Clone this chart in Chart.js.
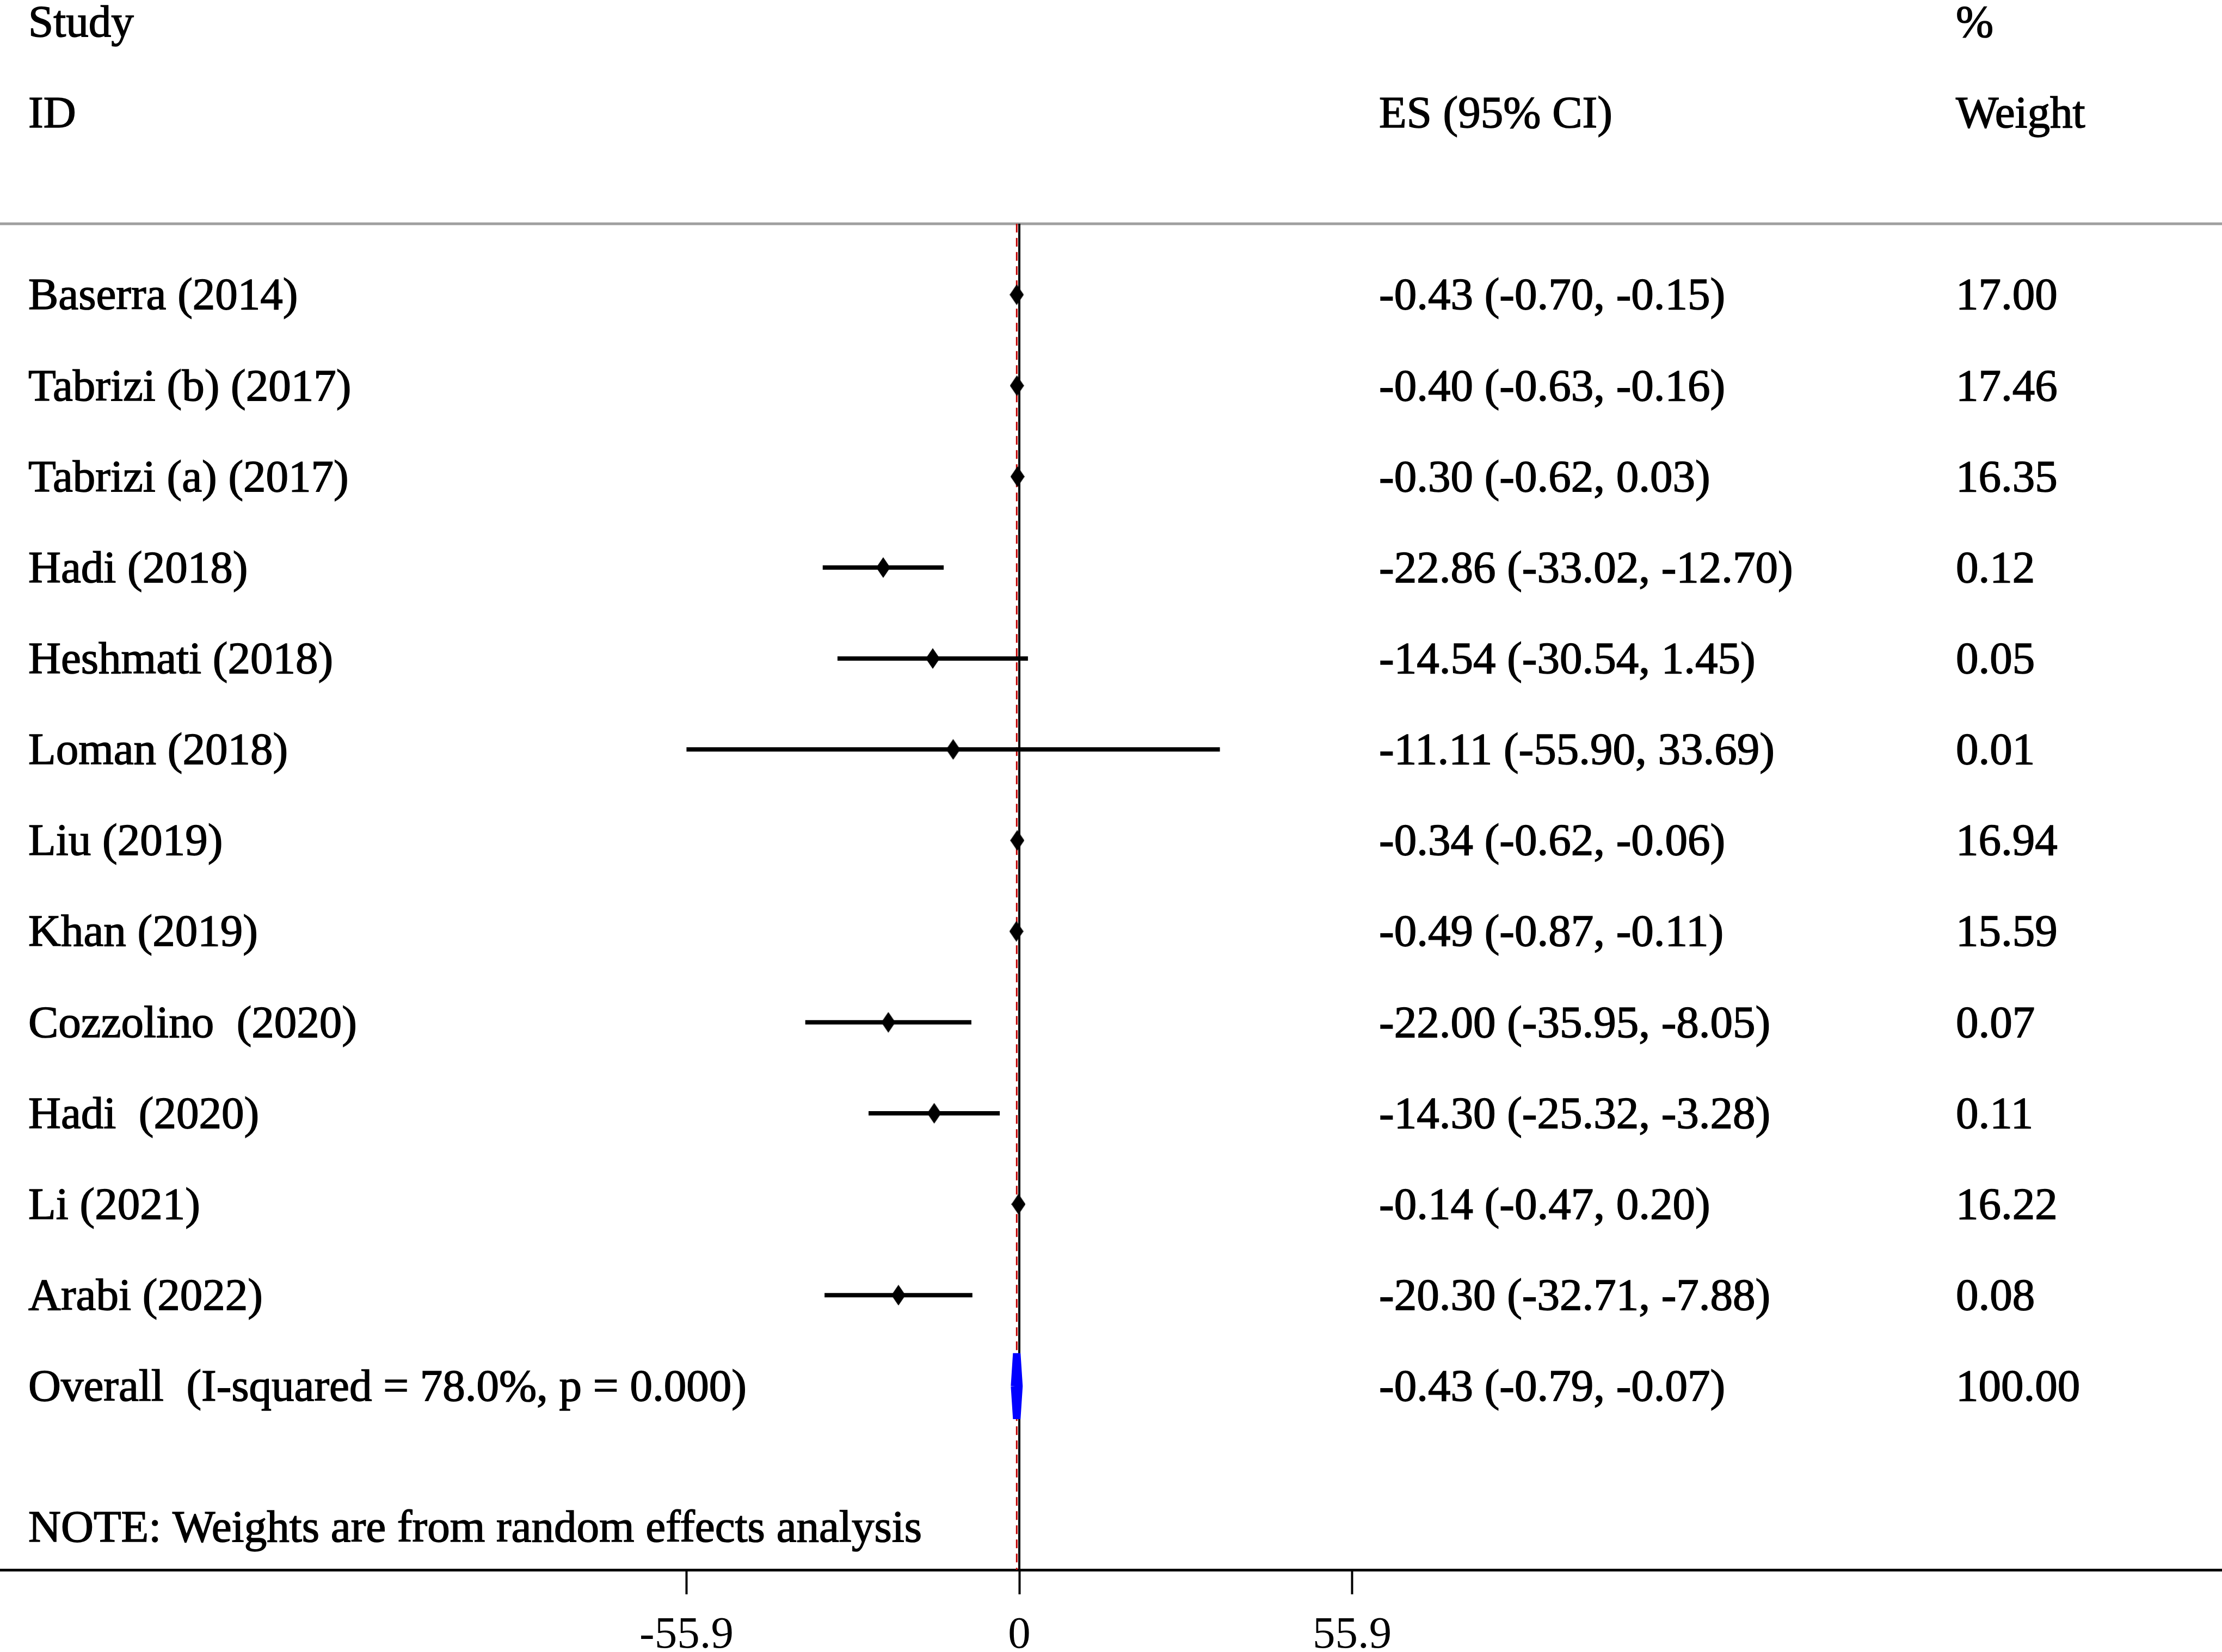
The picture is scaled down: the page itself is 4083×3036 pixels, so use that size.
<!DOCTYPE html>
<html>
<head>
<meta charset="utf-8">
<script src="https://cdn.jsdelivr.net/npm/chart.js@4.4.0/dist/chart.umd.min.js"></script>
<style>
html,body{margin:0;padding:0;background:#fff;}
#wrap{width:4083px;height:3036px;position:relative;}
</style>
</head>
<body>
<div id="wrap"><canvas id="forest"></canvas></div>
<script>
// studies, top to bottom
const studies = ["Baserra (2014)", "Tabrizi (b) (2017)", "Tabrizi (a) (2017)", "Hadi (2018)",
  "Heshmati (2018)", "Loman (2018)", "Liu (2019)", "Khan (2019)", "Cozzolino  (2020)",
  "Hadi  (2020)", "Li (2021)", "Arabi (2022)"];
const es     = [-0.43, -0.40, -0.30, -22.86, -14.54, -11.11, -0.34, -0.49, -22.00, -14.30, -0.14, -20.30];
const ciLow  = [-0.70, -0.63, -0.62, -33.02, -30.54, -55.90, -0.62, -0.87, -35.95, -25.32, -0.47, -32.71];
const ciHigh = [-0.15, -0.16,  0.03, -12.70,   1.45,  33.69, -0.06, -0.11,  -8.05,  -3.28,  0.20,  -7.88];
const weights = ["17.00", "17.46", "16.35", "0.12", "0.05", "0.01", "16.94", "15.59", "0.07", "0.11", "16.22", "0.08"];

const overallLabel = "Overall  (I-squared = 78.0%, p = 0.000)";
const overallES = -0.43, overallLow = -0.79, overallHigh = -0.07;
const overallWeight = "100.00";
const noteText = "NOTE: Weights are from random effects analysis";
const xTicks = [-55.9, 0, 55.9];

// row layout (y in row units, 1 = first study)
const overallRow = studies.length + 1;
const noteRow = 14.55;
const headerLineRow = 0.22;
const yMin = -2.24, yMax = 15.02;
const xMin = -171.2, xMax = 202.0;
const fnt = '"Liberation Serif", "Times New Roman", serif';

function diamond(w, h) {
  const c = document.createElement('canvas');
  c.width = w; c.height = h;
  const g = c.getContext('2d');
  g.fillStyle = '#000';
  g.beginPath();
  g.moveTo(w / 2, 0); g.lineTo(w, h / 2); g.lineTo(w / 2, h); g.lineTo(0, h / 2);
  g.closePath(); g.fill();
  return c;
}

const datasets = [];
// point estimates
datasets.push({
  type: 'scatter',
  data: es.map((v, i) => ({x: v, y: i + 1})),
  pointStyle: diamond(26, 38),
  pointRadius: 13,
  order: 0
});
// confidence intervals
studies.forEach((s, i) => {
  datasets.push({
    type: 'line',
    data: [{x: ciLow[i], y: i + 1}, {x: ciHigh[i], y: i + 1}],
    borderColor: '#000', borderWidth: 8, pointRadius: 0, borderCapStyle: 'butt',
    order: 1
  });
});
// overall diamond
datasets.push({
  type: 'line',
  data: [{x: overallLow, y: overallRow}, {x: overallES, y: overallRow - 0.36},
         {x: overallHigh, y: overallRow}, {x: overallES, y: overallRow + 0.36},
         {x: overallLow, y: overallRow}],
  borderColor: '#0000ff', backgroundColor: '#0000ff', borderWidth: 14,
  borderJoinStyle: 'bevel', fill: 'shape', pointRadius: 0, order: 0
});
// line of no effect
datasets.push({
  type: 'line',
  data: [{x: 0, y: headerLineRow}, {x: 0, y: yMax}],
  borderColor: '#000', borderWidth: 4, pointRadius: 0, order: 2
});
// overall effect dashed line
datasets.push({
  type: 'line',
  data: [{x: overallES, y: headerLineRow}, {x: overallES, y: yMax}],
  borderColor: '#c00000', borderWidth: 3, borderDash: [16, 10], pointRadius: 0, order: 3
});
// header separator
datasets.push({
  type: 'line',
  data: [{x: xMin, y: headerLineRow}, {x: xMax, y: headerLineRow}],
  borderColor: '#a0a0a0', borderWidth: 5, pointRadius: 0, order: 4
});

const fmt = v => v.toFixed(2);

const textPlugin = {
  id: 'forestText',
  afterDatasetsDraw(chart) {
    const ctx = chart.ctx, y = chart.scales.y;
    const colStudy = 52, colES = 2534, colW = 3594;
    ctx.save();
    ctx.fillStyle = '#000';
    ctx.strokeStyle = '#000';
    ctx.lineWidth = 1.5;
    ctx.font = '83px ' + fnt;
    ctx.textAlign = 'left';
    ctx.textBaseline = 'middle';
    const put = (t, x, row) => {
      const py = y.getPixelForValue(row) + 5;
      ctx.fillText(t, x, py);
      ctx.strokeText(t, x, py);
    };
    put('Study', colStudy, -2);
    put('%', colW, -2);
    put('ID', colStudy, -1);
    put('ES (95% CI)', colES, -1);
    put('Weight', colW, -1);
    studies.forEach((s, i) => {
      put(s, colStudy, i + 1);
      put(fmt(es[i]) + ' (' + fmt(ciLow[i]) + ', ' + fmt(ciHigh[i]) + ')', colES, i + 1);
      put(weights[i], colW, i + 1);
    });
    put(overallLabel, colStudy, overallRow);
    put(fmt(overallES) + ' (' + fmt(overallLow) + ', ' + fmt(overallHigh) + ')', colES, overallRow);
    put(overallWeight, colW, overallRow);
    put(noteText, colStudy, noteRow);
    ctx.restore();
  }
};

new Chart(document.getElementById('forest'), {
  type: 'scatter',
  data: {datasets: datasets},
  options: {
    responsive: true,
    maintainAspectRatio: false,
    animation: false,
    layout: {padding: 0, autoPadding: false},
    plugins: {legend: {display: false}, tooltip: {enabled: false}},
    scales: {
      x: {
        type: 'linear', min: xMin, max: xMax,
        afterBuildTicks: scale => { scale.ticks = xTicks.map(v => ({value: v})); },
        afterFit: scale => { scale.height = 151; },
        ticks: {
          callback: v => String(v),
          color: '#000', padding: 26,
          font: {family: fnt, size: 83}
        },
        grid: {drawOnChartArea: false, drawTicks: true, tickLength: 45, tickColor: '#000', tickWidth: 4},
        border: {display: true, color: '#000', width: 5}
      },
      y: {
        type: 'linear', min: yMin, max: yMax, reverse: true, display: false
      }
    }
  },
  plugins: [textPlugin]
});
</script>
</body>
</html>
